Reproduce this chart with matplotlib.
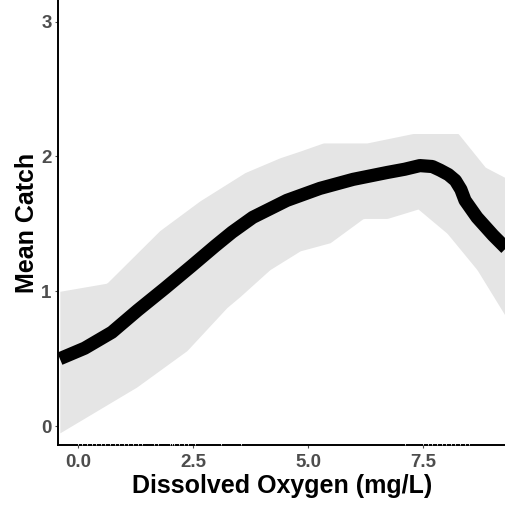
import numpy as np
import matplotlib.pyplot as plt
import matplotlib.transforms as mtransforms

# smoothed fit of mean catch vs dissolved oxygen
fit_x = [-0.39, 0.15, 0.74, 1.30, 1.89, 2.48, 2.98, 3.35, 3.80, 4.54, 5.26,
         5.98, 6.72, 7.10, 7.43, 7.70, 7.87, 8.05, 8.20, 8.32, 8.41, 8.67, 9.02, 9.30]
fit_y = [0.50, 0.578, 0.696, 0.859, 1.022, 1.190, 1.335, 1.438, 1.548, 1.674, 1.763,
         1.830, 1.881, 1.905, 1.932, 1.925, 1.898, 1.865, 1.822, 1.755, 1.674, 1.548, 1.415, 1.319]

# confidence band edges
upper_x = [-0.39, 0.63, 1.78, 2.65, 3.63, 4.39, 4.83, 5.33, 6.28, 7.28, 8.26, 8.85, 9.30]
upper_y = [1.00, 1.06, 1.45, 1.67, 1.88, 1.99, 2.04, 2.10, 2.10, 2.17, 2.17, 1.92, 1.84]
lower_x = [-0.39, 1.28, 2.37, 3.24, 3.52, 4.17, 4.83, 5.48, 6.20, 6.72, 7.39, 8.02, 8.67, 9.30]
lower_y = [-0.05, 0.29, 0.56, 0.88, 0.96, 1.16, 1.30, 1.36, 1.54, 1.54, 1.61, 1.43, 1.16, 0.81]

# observed oxygen values (rug)
rug_x = [0.0, 0.1, 0.2, 0.3, 0.4, 0.5, 0.6, 0.7, 0.8, 0.9, 1.0, 1.1, 1.2, 1.3, 1.4,
         1.65, 1.75, 2.0, 2.05, 2.1, 2.2, 2.3, 2.4, 2.55, 3.1, 3.55,
         7.1, 7.5, 7.6, 7.7, 7.8, 7.9, 8.0, 8.1, 8.2, 8.3, 8.4, 8.5]

x_ticks = [0.0, 2.5, 5.0, 7.5]
y_ticks = [0, 1, 2, 3]

plt.rcParams['font.family'] = ['Liberation Sans', 'DejaVu Sans']

fig = plt.figure(figsize=(5.06, 5.08), dpi=100)
ax = fig.add_axes([0.1146, 0.124, 0.8854, 0.876])

grid = np.linspace(-0.39, 9.3, 300)
band_hi = np.interp(grid, upper_x, upper_y)
band_lo = np.interp(grid, lower_x, lower_y)
ax.fill_between(grid, band_lo, band_hi, color='#e5e5e5', lw=0, zorder=1)
ax.plot(fit_x, fit_y, color='black', lw=9.5, solid_capstyle='butt',
        solid_joinstyle='round', zorder=2)

ax.set_xlim(-0.43, 9.3)
ax.set_ylim(-0.14, 3.16)
ax.set_xticks(x_ticks)
ax.set_xticklabels(['%.1f' % t for t in x_ticks])
ax.set_yticks(y_ticks)

for side in ['top', 'right']:
    ax.spines[side].set_visible(False)
for side in ['left', 'bottom']:
    ax.spines[side].set_linewidth(1.4)
    ax.spines[side].set_color('black')
    ax.spines[side].set_zorder(3)

trans = mtransforms.blended_transform_factory(ax.transData, ax.transAxes)
ax.vlines(rug_x, 0, 0.007, colors='white', lw=0.6, transform=trans, zorder=4,
          clip_on=False)

ax.tick_params(axis='both', length=2.5, width=0.8, color='#4d4d4d',
               labelsize=13.5, labelcolor='#4d4d4d')
ax.tick_params(axis='x', pad=4)
ax.tick_params(axis='y', pad=2)
for lab in ax.get_xticklabels() + ax.get_yticklabels():
    lab.set_fontweight('bold')

ax.set_xlabel('Dissolved Oxygen (mg/L)', fontsize=18, fontweight='bold', labelpad=2)
ax.set_ylabel('Mean Catch', fontsize=18, fontweight='bold', labelpad=2)

fig.savefig('out.png', dpi=100)
